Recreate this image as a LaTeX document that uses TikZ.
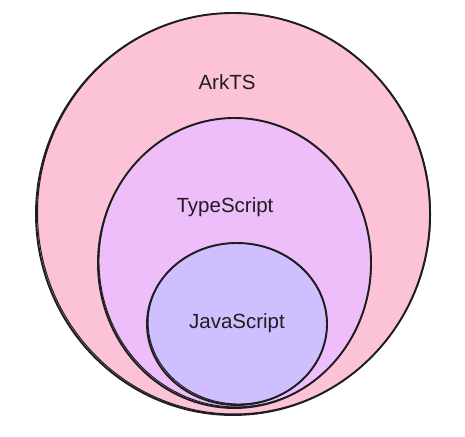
\documentclass[tikz,border=0pt]{standalone}
\usepackage{fontspec}
\setmainfont{Liberation Sans}
\usetikzlibrary{shapes.geometric}
\definecolor{arkfill}{HTML}{FCC2D7}
\definecolor{tsfill}{HTML}{EEBEFA}
\definecolor{jsfill}{HTML}{D0BFFF}
\definecolor{ink}{HTML}{1E1E1E}
\tikzset{
  blob/.style={ellipse, draw=ink, line width=1.9pt, inner sep=0pt},
  sketch/.style={draw=ink, line width=1pt},
  lbl/.style={text=ink, font=\fontsize{20.5}{22}\selectfont, inner sep=0pt}
}
\begin{document}
\begin{tikzpicture}[x=1pt,y=-1pt]
\useasboundingbox (0,0) rectangle (465,436);
\node[blob, fill=arkfill, minimum width=394pt, minimum height=402pt] (ark) at (233,214) {};
\draw[sketch] (234,213.5) ellipse [x radius=196.5pt, y radius=200.5pt, rotate=3];
\node[blob, fill=tsfill, minimum width=273pt, minimum height=290pt] (ts) at (234.5,263) {};
\draw[sketch] (235,262.5) ellipse [x radius=136pt, y radius=144.5pt, rotate=4];
\node[blob, fill=jsfill, minimum width=180pt, minimum height=162pt] (js) at (237,324) {};
\draw[sketch] (237.5,323.5) ellipse [x radius=89.5pt, y radius=80.5pt, rotate=-4];
\node[lbl] (arkt) at (227,82) {ArkTS};
\node[lbl] (tst) at (225,207) {TypeScript};
\node[lbl] (jst) at (237,323) {JavaScript};
\end{tikzpicture}
\end{document}
